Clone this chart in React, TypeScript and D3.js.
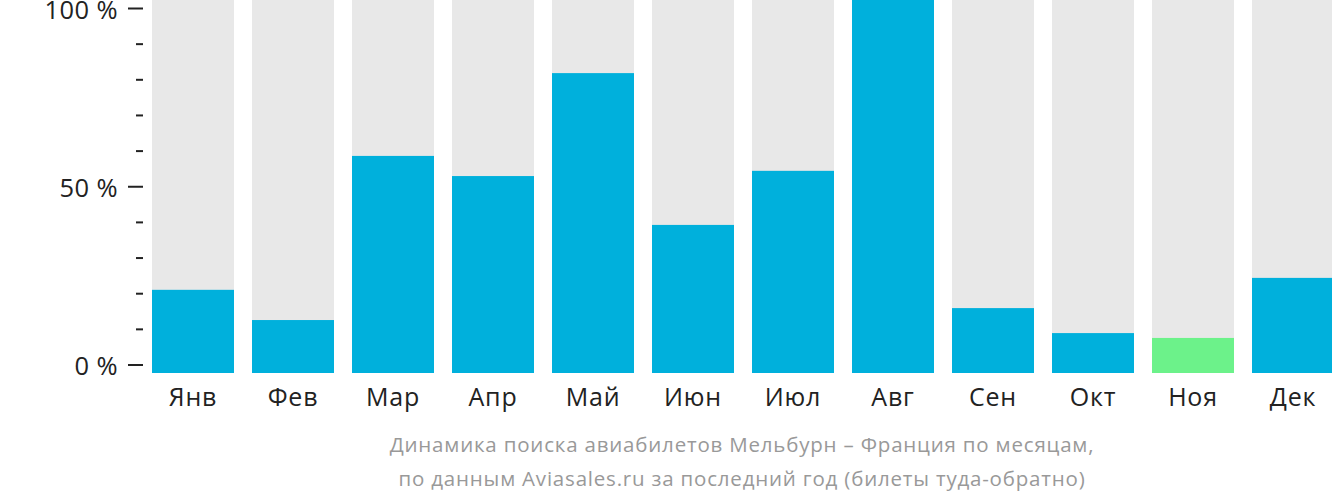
import React from "react";
import * as d3 from "d3";

const months = ["Янв", "Фев", "Мар", "Апр", "Май", "Июн", "Июл", "Авг", "Сен", "Окт", "Ноя", "Дек"];
const values = [22.3, 14.2, 58.2, 52.8, 80.4, 39.7, 54.2, 100, 17.4, 10.7, 9.4, 25.5];
const highlightIndex = 10;
const majorTicks = [0, 50, 100];
const minorTicks = [10, 20, 30, 40, 60, 70, 80, 90];
const captionLines = [
  "Динамика поиска авиабилетов Мельбурн – Франция по месяцам,",
  "по данным Aviasales.ru за последний год (билеты туда-обратно)",
];

const W = 1332;
const H = 502;
const FONT = "'Open Sans', sans-serif";

export default function App() {
  const x = d3.scaleBand<string>().domain(months).range([143, 1343]).paddingInner(0.18).paddingOuter(0.09);
  const yBar = d3.scaleLinear().domain([0, 100]).range([373, 0]);
  const yAxis = d3.scaleLinear().domain([0, 100]).range([365, 8.5]);

  return (
    <svg width={W} height={H} style={{ position: "absolute", left: 0, top: 0, background: "#fff" }}>
      {months.map((m, i) => (
        <g key={m}>
          <rect x={x(m)} y={yBar(100)} width={x.bandwidth()} height={yBar(0) - yBar(100)} fill="#e8e8e8" />
          <rect
            x={x(m)}
            y={yBar(values[i])}
            width={x.bandwidth()}
            height={yBar(0) - yBar(values[i])}
            fill={i === highlightIndex ? "#6cf28a" : "#00b0dc"}
          />
          <text
            x={(x(m) as number) + x.bandwidth() / 2}
            y={406}
            textAnchor="middle"
            fontFamily={FONT}
            fontSize={25}
            letterSpacing={0.8}
            fill="#222"
          >
            {m}
          </text>
        </g>
      ))}
      {majorTicks.map((t) => (
        <g key={"M" + t}>
          <line x1={128} x2={143} y1={yAxis(t)} y2={yAxis(t)} stroke="#222" strokeWidth={2} />
          <text x={118} y={yAxis(t) + 10} textAnchor="end" fontFamily={FONT} fontSize={25.5} letterSpacing={0.4} fill="#222">
            {t + " %"}
          </text>
        </g>
      ))}
      {minorTicks.map((t) => (
        <line key={"m" + t} x1={136} x2={143} y1={yAxis(t)} y2={yAxis(t)} stroke="#222" strokeWidth={2} />
      ))}
      {captionLines.map((c, i) => (
        <text
          key={i}
          x={742}
          y={452 + i * 34}
          textAnchor="middle"
          fontFamily={FONT}
          fontSize={20.5}
          letterSpacing={0.8}
          fill="#999"
        >
          {c}
        </text>
      ))}
    </svg>
  );
}
